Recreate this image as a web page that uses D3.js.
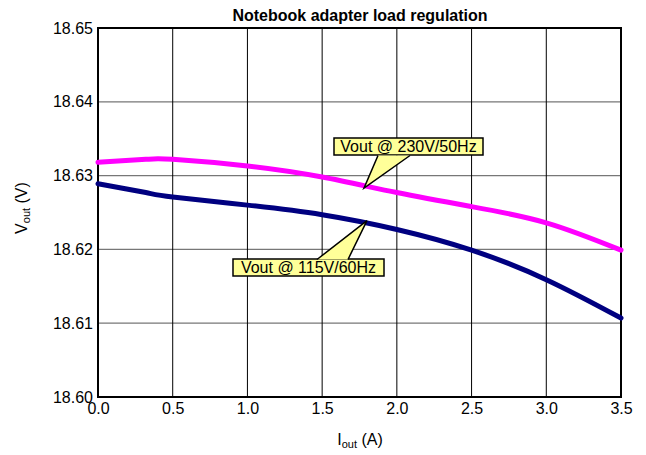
<!DOCTYPE html>
<html><head><meta charset="utf-8">
<script src="https://cdn.jsdelivr.net/npm/d3@7/dist/d3.min.js"></script>
<style>body{margin:0;background:#fff}svg{display:block;font-family:"Liberation Sans",Arial,sans-serif}</style>
</head><body>
<svg id="c" width="646" height="455"></svg>
<script>
const iout = [0.0, 0.32, 0.5, 1.0, 1.5, 2.0, 2.5, 3.0, 3.5];
const v230 = [18.6318, 18.6322, 18.6322, 18.6313, 18.6298, 18.6277, 18.6258, 18.6236, 18.6199];
const v115 = [18.6289, 18.6277, 18.6271, 18.6260, 18.6247, 18.6227, 18.6199, 18.6159, 18.6107];
const xTicks = [0.0, 0.5, 1.0, 1.5, 2.0, 2.5, 3.0, 3.5];
const yTicks = [18.60, 18.61, 18.62, 18.63, 18.64, 18.65];
const title = "Notebook adapter load regulation";
const label230 = "Vout @ 230V/50Hz";
const label115 = "Vout @ 115V/60Hz";

const svg = d3.select("#c");
const L = 98, R = 621, T = 28, B = 397;
const x = d3.scaleLinear().domain([0, 3.5]).range([L, R]);
const y = d3.scaleLinear().domain([18.60, 18.65]).range([B, T]);

// grid
svg.append("g").selectAll("line").data(yTicks).join("line")
  .attr("x1", L).attr("x2", R).attr("y1", d => y(d)).attr("y2", d => y(d))
  .attr("stroke", "#777").attr("stroke-width", 1.2);
svg.append("g").selectAll("line").data(xTicks).join("line")
  .attr("x1", d => x(d)).attr("x2", d => x(d)).attr("y1", T).attr("y2", B)
  .attr("stroke", "#000").attr("stroke-width", 1);

// axes labels via d3 axes
const xa = svg.append("g").attr("transform", `translate(0,${B})`)
  .call(d3.axisBottom(x).tickValues(xTicks).tickFormat(d3.format(".1f")).tickSize(0).tickPadding(6));
const ya = svg.append("g").attr("transform", `translate(${L},0)`)
  .call(d3.axisLeft(y).tickValues(yTicks).tickFormat(d3.format(".2f")).tickSize(0).tickPadding(5));
[xa, ya].forEach(g => { g.select(".domain").remove(); g.selectAll("text").attr("font-size", 16).attr("fill", "#000").style("font-family", "Liberation Sans, Arial, sans-serif"); });

// frame
svg.append("rect").attr("x", L).attr("y", T).attr("width", R - L).attr("height", B - T)
  .attr("fill", "none").attr("stroke", "#000").attr("stroke-width", 2);

// lines
const line = d3.line().x((d, i) => x(iout[i])).y(d => y(d)).curve(d3.curveBasis);
const lineN = d3.line().x((d, i) => x(iout[i])).y(d => y(d)).curve(d3.curveNatural);
svg.append("path").attr("d", lineN(v230)).attr("fill", "none").attr("stroke", "#ff00ff")
  .attr("stroke-width", 5).attr("stroke-linecap", "round");
svg.append("path").attr("d", lineN(v115)).attr("fill", "none").attr("stroke", "#000080")
  .attr("stroke-width", 5).attr("stroke-linecap", "round");

// callouts
function callout(tx, ty, bx, by, bw, bh, w1, w2, wy, text) {
  const g = svg.append("g");
  g.append("rect").attr("x", bx).attr("y", by).attr("width", bw).attr("height", bh)
    .attr("fill", "#ffff99").attr("stroke", "#000").attr("stroke-width", 1.5);
  g.append("path").attr("d", `M${w1},${wy}L${tx},${ty}L${w2},${wy}Z`).attr("fill", "#ffff99");
  g.append("path").attr("d", `M${w1},${wy}L${tx},${ty}L${w2},${wy}`).attr("fill", "none")
    .attr("stroke", "#000").attr("stroke-width", 1.5);
  g.append("text").attr("x", bx + bw / 2).attr("y", by + bh / 2 + 5.5).attr("text-anchor", "middle")
    .attr("font-size", 16).text(text);
}
callout(x(1.78), y(18.6283), 334, 138, 149, 17, 378, 410, 155.5, label230);
callout(x(1.8), y(18.6239), 233, 259, 151, 17, 317, 348, 259.5, label115);

// title
svg.append("text").attr("x", 360).attr("y", 21).attr("text-anchor", "middle")
  .attr("font-size", 16).attr("font-weight", "bold").text(title);

// axis titles
const xt = svg.append("text").attr("x", 360).attr("y", 445).attr("text-anchor", "middle").attr("font-size", 16);
xt.append("tspan").text("I");
xt.append("tspan").attr("font-size", 11).attr("dy", 3).text("out");
xt.append("tspan").attr("dy", -3).text(" (A)");
const yt = svg.append("text").attr("transform", "translate(27,208) rotate(-90)").attr("text-anchor", "middle").attr("font-size", 16);
yt.append("tspan").text("V");
yt.append("tspan").attr("font-size", 11).attr("dy", 3).text("out");
yt.append("tspan").attr("dy", -3).text(" (V)");
</script>
</body></html>
